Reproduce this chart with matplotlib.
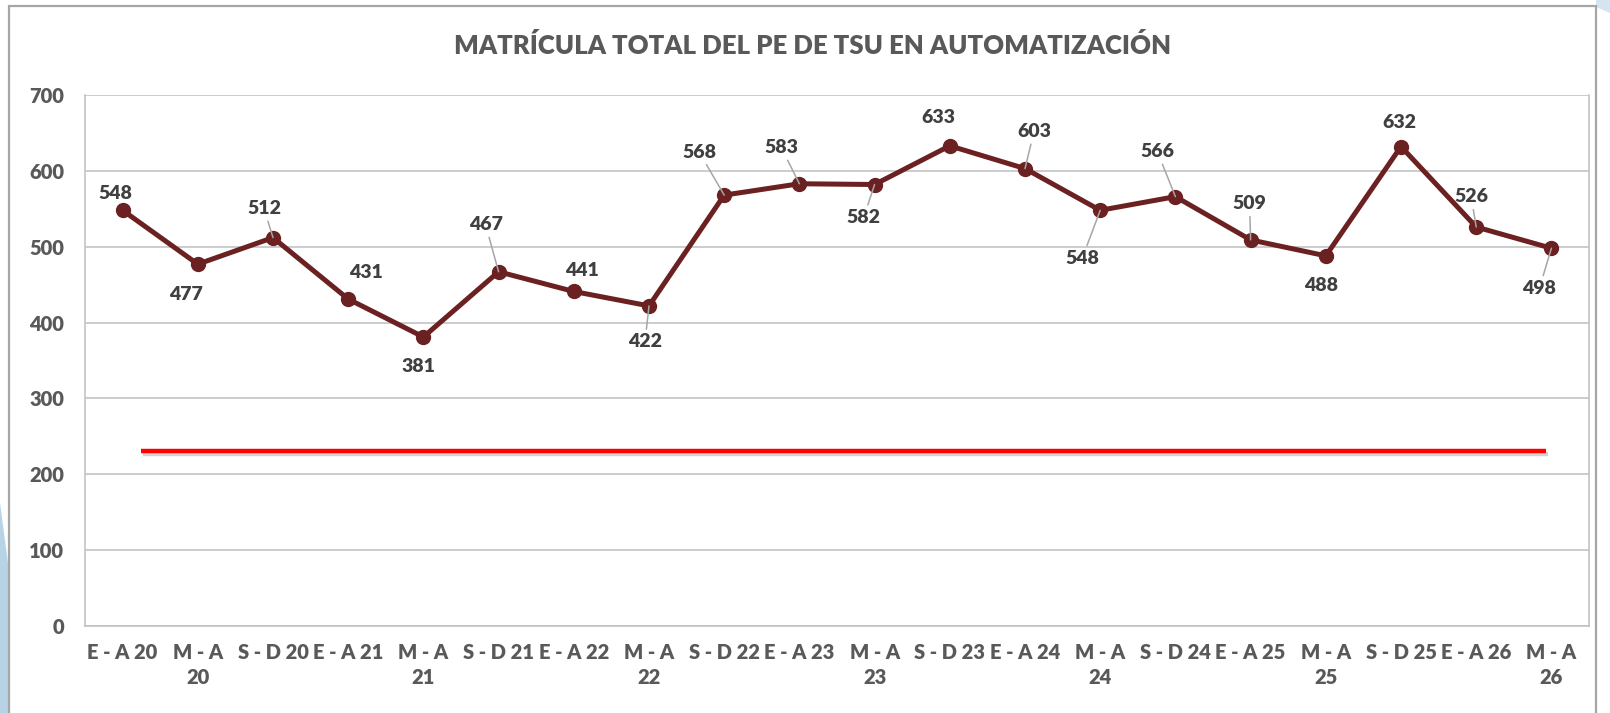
#!/usr/bin/env python3
"""Matricula total del PE de TSU en Automatizacion - line chart"""

import matplotlib
matplotlib.use("Agg")
import matplotlib.pyplot as plt
import matplotlib.patheffects as pe
from matplotlib.patches import Rectangle, Polygon

plt.rcParams['font.family'] = ['Lato', 'DejaVu Sans']

# data
periods = ["E - A 20", "M - A\n20", "S - D 20", "E - A 21", "M - A\n21", "S - D 21",
           "E - A 22", "M - A\n22", "S - D 22", "E - A 23", "M - A\n23", "S - D 23",
           "E - A 24", "M - A\n24", "S - D 24", "E - A 25", "M - A\n25", "S - D 25",
           "E - A 26", "M - A\n26"]
enrolment = [548, 477, 512, 431, 381, 467, 441, 422, 568, 583,
             582, 633, 603, 548, 566, 509, 488, 632, 526, 498]
target_value = 231
target_span = [0.24, 18.93]

# label placement (pixel offsets from the point) and leader line flags
label_dx = [-7, -12, -9, 18, -5, -13, 8, -4, -25, -18,
            -11, -11, 9, -18, -18, -1, -5, -2, -5, -12]
label_dy = [17, -30, 29, 27, -30, 47, 21, -36, 43, 36,
            -33, 28, 37, -48, 45, 36, -30, 24, 30, -40]
leader = [False, False, True, False, False, True, False, True, True, True,
          True, False, True, True, True, True, False, False, True, True]

W, H = 1610, 713
fig = plt.figure(figsize=(W / 100, H / 100), dpi=100)
fig.patch.set_facecolor('white')

# slide background bits outside the chart frame
fig.patches.append(Polygon([(0, 0), (8 / W, 0), (8 / W, 150 / H), (0, 210 / H)],
                           closed=True, transform=fig.transFigure,
                           facecolor='#b9d3e6', edgecolor='none', zorder=0))
fig.patches.append(Polygon([(1596 / W, 1), (1, 1), (1, 700 / H), (1596 / W, 706 / H)],
                           closed=True, transform=fig.transFigure,
                           facecolor='#d5e4ef', edgecolor='none', zorder=0))
# chart frame
fig.patches.append(Rectangle((9 / W, -0.05), 1587 / W, 1.05 - 6 / H,
                             transform=fig.transFigure, facecolor='none',
                             edgecolor='#a6a6a6', lw=1.6, zorder=1))

ax = fig.add_axes([85 / W, (H - 626) / H, (1589 - 85) / W, (626 - 95) / H])
ax.set_facecolor('none')

x = list(range(len(enrolment)))
ax.plot(x, enrolment, color='#6b2121', lw=3.6, marker='o', markersize=10,
        zorder=4, solid_joinstyle='round')

ax.plot(target_span, [target_value, target_value], color='#ff0000', lw=3.2,
        zorder=3, solid_capstyle='butt',
        path_effects=[pe.SimpleLineShadow(offset=(1.5, -2.5), shadow_color='#7f7f7f', alpha=0.35),
                      pe.Normal()])

for i, v in enumerate(enrolment):
    arrow = None
    if leader[i]:
        arrow = dict(arrowstyle='-', color='#a6a6a6', lw=1.1, shrinkA=1, shrinkB=0)
    ax.annotate(str(v), xy=(i, v), xytext=(label_dx[i], label_dy[i]),
                textcoords='offset pixels', ha='center', va='center',
                fontsize=14, fontweight='heavy', color='#404040',
                arrowprops=arrow, zorder=5)

ax.set_xlim(-0.5, len(enrolment) - 0.5)
ax.set_ylim(0, 700)
ax.set_yticks(range(0, 701, 100))
ax.set_xticks(x)
ax.set_xticklabels(periods, linespacing=1.4)

ax.grid(axis='y', color='#bfbfbf', lw=1.1)
ax.set_axisbelow(True)
for side in ['left', 'right', 'bottom', 'top']:
    ax.spines[side].set_color('#bfbfbf')
    ax.spines[side].set_linewidth(1.1)
ax.spines['top'].set_visible(False)

ax.tick_params(axis='both', length=0, labelsize=14.5, labelcolor='#595959')
ax.tick_params(axis='y', pad=15)
ax.tick_params(axis='x', pad=12)
for lbl in ax.get_xticklabels() + ax.get_yticklabels():
    lbl.set_fontweight('heavy')

fig.text(813 / W, 1 - 45 / H, 'MATRÍCULA TOTAL DEL PE DE TSU EN AUTOMATIZACIÓN',
         ha='center', va='center', fontsize=18.5, fontweight='heavy', color='#595959')

fig.savefig('out.png', dpi=100)
